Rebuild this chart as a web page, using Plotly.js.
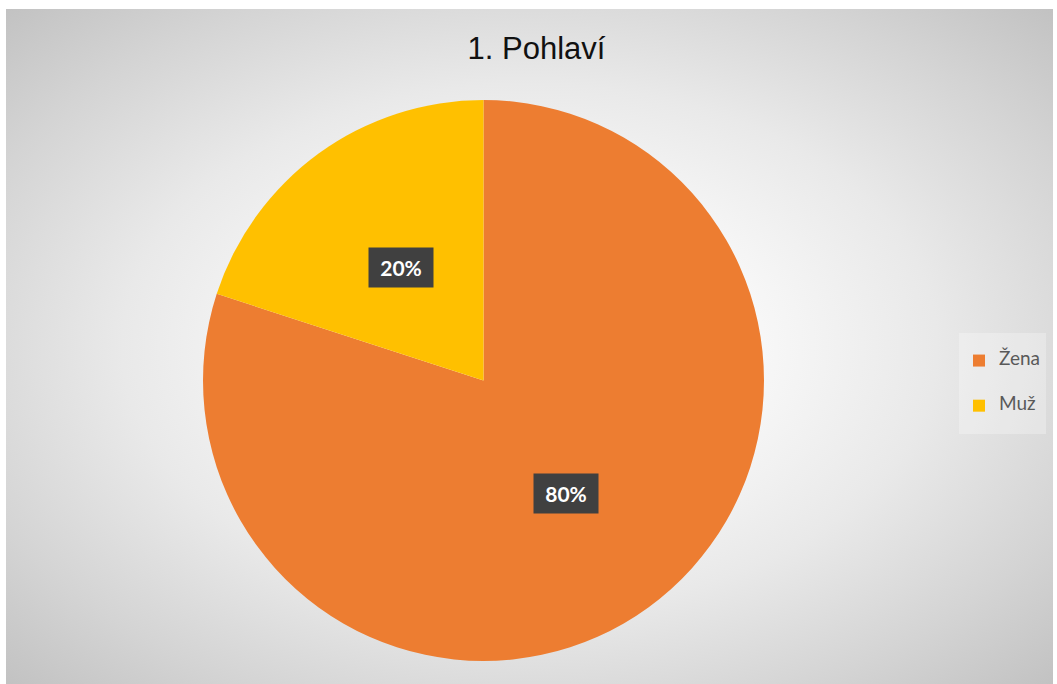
<!DOCTYPE html>
<html>
<head>
<meta charset="utf-8">
<script src="https://cdn.plot.ly/plotly-3.0.1.min.js"></script>
<style>
  html, body { margin: 0; padding: 0; background: #ffffff; width: 1057px; height: 684px; overflow: hidden; }
  #bg { position: absolute; left: 6px; top: 9px; width: 1047px; height: 675px;
        background: radial-gradient(ellipse farthest-corner at 50% 50%, #ffffff 0%, #fbfbfb 25%, #e9e9e9 55%, #d4d4d4 80%, #c2c2c2 100%); }
  #chart { position: absolute; left: 0; top: 0; width: 1057px; height: 684px; }
</style>
</head>
<body>
<div id="bg"></div>
<div id="chart"></div>
<script>
const titleText = "1. Pohlaví";
const categories = ["Žena", "Muž"];
const values = [80, 20];
const colors = ["#ED7D31", "#FFC000"];

const W = 1057, H = 684;
const domX = [202 / W, 765 / W];
const domY = [(H - 661) / H, (H - 100) / H];

// data-label positions derived from the values (mid-angle of each slice, half radius)
const total = values.reduce((a, b) => a + b, 0);
const cx = (domX[0] + domX[1]) / 2, cy = (domY[0] + domY[1]) / 2;
const rPx = Math.min((domX[1] - domX[0]) * W, (domY[1] - domY[0]) * H) / 2;
let acc = 0;
const annotations = values.map((v) => {
  const mid = (acc + v / 2) / total * 2 * Math.PI;
  acc += v;
  const pct = Math.round(v / total * 100) + "%";
  return {
    xref: "paper", yref: "paper",
    x: cx + 0.5 * rPx * Math.sin(mid) / W,
    y: cy + 0.5 * rPx * Math.cos(mid) / H,
    text: "<b>" + pct + "</b>",
    showarrow: false,
    font: { family: "Lato, 'Open Sans', sans-serif", size: 21, color: "#ffffff" },
    bgcolor: "#404040",
    borderpad: 8,
    width: 48, height: 23,
    xanchor: "center", yanchor: "middle"
  };
});

// legend labels: larger text with blank lines for Excel-like spacing
const legendLabels = categories.map(c => " <br><span style='font-size:19px'>" + c + "</span><br> ");

const trace = {
  type: "pie",
  labels: legendLabels,
  values: values,
  marker: { colors: colors, line: { width: 0 } },
  sort: false,
  direction: "clockwise",
  rotation: 0,
  textinfo: "none",
  hoverinfo: "none",
  domain: { x: domX, y: domY }
};

const layout = {
  width: W, height: H,
  margin: { l: 0, r: 0, t: 0, b: 0 },
  paper_bgcolor: "rgba(0,0,0,0)",
  plot_bgcolor: "rgba(0,0,0,0)",
  title: {
    text: titleText,
    font: { family: "'Liberation Sans', Arial, sans-serif", size: 31, color: "#111111" },
    x: 536.5 / W, xref: "paper", xanchor: "center",
    y: 1 - 48 / H, yref: "container", yanchor: "middle"
  },
  showlegend: true,
  legend: {
    x: 959 / W, xanchor: "left",
    y: (H - 333) / H, yanchor: "top",
    bgcolor: "rgba(255,255,255,0.28)",
    borderwidth: 0,
    font: { family: "Lato, 'Open Sans', sans-serif", size: 10.8, color: "#595959" }
  },
  annotations: annotations
};

Plotly.newPlot("chart", [trace], layout, { staticPlot: true, displayModeBar: false });
</script>
</body>
</html>
